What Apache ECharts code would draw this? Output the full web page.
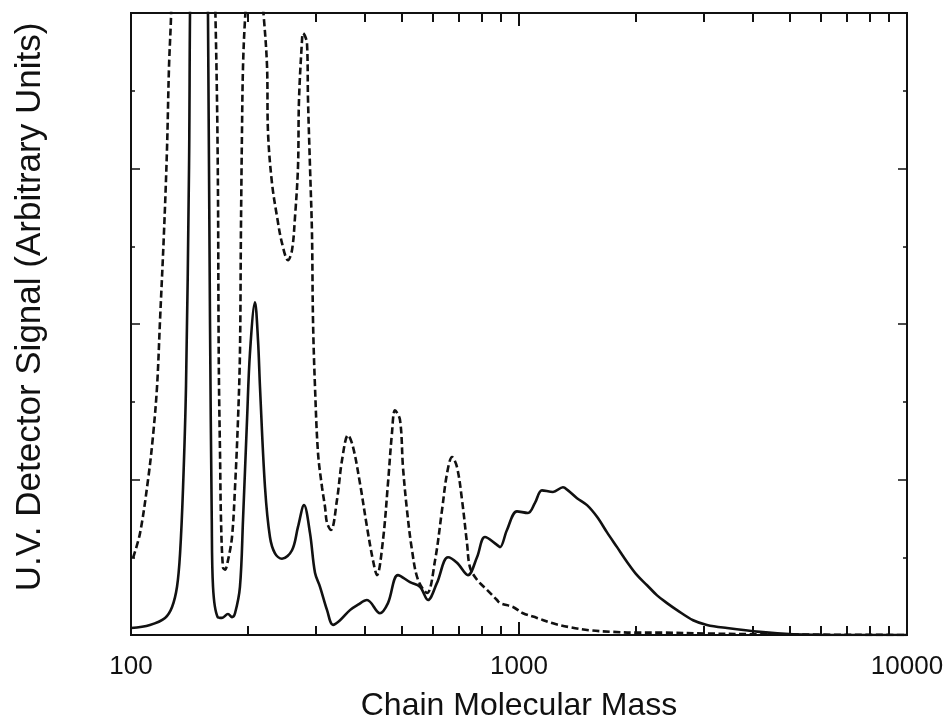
<!DOCTYPE html>
<html>
<head>
<meta charset="utf-8">
<script src="https://cdn.jsdelivr.net/npm/echarts@6/dist/echarts.min.js"></script>
<style>
html,body{margin:0;padding:0;background:#fff;}
#chart{width:950px;height:723px;}
</style>
</head>
<body>
<div id="chart"></div>
<script>
// Solid curve: chain molecular mass vs UV signal
const solidMass = [100, 111.9, 122.4, 127.6, 131.4, 133.8, 136.2, 138.6, 141.1, 142.8, 149.6, 157.0, 157.9, 159.8, 161.5, 162.7, 167.3,
  171.6, 177.8, 182.1, 185.4, 190.9, 194.4, 199.1, 202.6, 208.7, 212.5, 215.0, 221.5, 228.1, 235.0, 245.0, 260.0, 269.4, 279.2,
  289.3, 298.0, 307.0, 320.1, 331.7, 345.8, 366.7, 384.6, 405.7, 438.2, 459.5, 487.6, 523.6, 555.6, 582.7, 614.6, 656.2, 692.1,
  738.8, 779.4, 817.2, 877.6, 893.4, 931.1, 988.1, 1054.8, 1099.5, 1146.2, 1223.4, 1298.2, 1337.4, 1411.0, 1497.4, 1588.8,
  1686.2, 1789.4, 1899.0, 2014.6, 2138.0, 2268.8, 2407.2, 2554.4, 2809.5, 3051.3, 3436.7, 4178.8, 5084.2, 6500, 10000];
const solidSignal = [0.09, 0.13, 0.22, 0.36, 0.62, 1.05, 1.9, 3.2, 6.0, 9.0, 12.0, 9.0, 8.0, 4.05, 1.48, 0.62, 0.23,
  0.22, 0.27, 0.23, 0.28, 0.62, 1.48, 2.77, 3.63, 4.28, 3.79, 3.19, 1.90, 1.26, 1.05, 0.98, 1.09, 1.39, 1.67,
  1.31, 0.80, 0.62, 0.32, 0.13, 0.19, 0.32, 0.39, 0.45, 0.28, 0.41, 0.77, 0.68, 0.62, 0.45, 0.67, 1.0, 0.93,
  0.77, 1.0, 1.26, 1.16, 1.13, 1.35, 1.59, 1.57, 1.70, 1.86, 1.84, 1.90, 1.86, 1.76, 1.67, 1.52,
  1.32, 1.13, 0.94, 0.77, 0.64, 0.51, 0.41, 0.32, 0.19, 0.13, 0.09, 0.04, 0.01, 0.0, 0.0];

// Dashed curve
const dashedMass = [101.2, 105.5, 110.6, 113.9, 116.7, 118.8, 121.6, 123.8, 125.3, 126.8, 129.1, 137.8, 146.2, 155.1, 161.8, 164.7,
  166.6, 167.6, 168.1, 168.6, 169.6, 170.6, 172.6, 174.7, 177.8, 182.1, 185.4, 188.7, 190.9, 192.0, 193.2, 194.4, 196.7,
  201.4, 207.5, 213.8, 220.2, 224.2, 225.5, 230.9, 237.9, 245.0, 253.9, 260.0, 264.7, 269.4, 271.0, 275.9, 277.5, 284.2,
  285.9, 289.3, 292.7, 294.5, 298.0, 303.4, 310.7, 316.2, 320.1, 327.8, 339.6, 349.9, 362.5, 373.4, 389.2, 405.7, 420.4,
  430.5, 446.1, 459.5, 470.6, 479.0, 493.4, 502.3, 514.3, 530.0, 549.2, 579.5, 607.6, 633.4, 652.5, 672.2, 692.1, 713.0,
  734.5, 747.7, 779.4, 827.1, 877.6, 893.4, 965.0, 1023.9, 1112.6, 1223.4, 1353.4, 1524.1, 1747.5, 2014.6, 2350, 3000, 4000, 10000];
const dashedSignal = [0.99, 1.31, 1.99, 2.55, 3.19, 4.05, 5.17, 6.24, 7.31, 7.95, 9.5, 13, 14, 13, 10, 8.2,
  6.88, 5.6, 4.05, 3.19, 2.34, 1.48, 0.87, 0.84, 0.96, 1.26, 1.90, 2.77, 3.63, 5.17, 6.46, 7.31, 7.91,
  8.6, 9.0, 8.6, 7.91, 7.31, 6.46, 5.81, 5.38, 5.04, 4.82, 4.95, 5.38, 6.02, 6.88, 7.65, 7.74, 7.61,
  6.88, 6.02, 5.17, 4.05, 3.19, 2.34, 1.90, 1.65, 1.44, 1.35, 1.74, 2.25, 2.57, 2.42, 1.95, 1.39, 0.96,
  0.77, 1.22, 1.95, 2.60, 2.89, 2.77, 2.16, 1.61, 1.09, 0.71, 0.54, 0.96, 1.61, 2.08, 2.29, 2.16, 1.74,
  1.18, 0.87, 0.71, 0.58, 0.45, 0.41, 0.36, 0.28, 0.22, 0.15, 0.10, 0.06, 0.04, 0.03, 0.03, 0.02, 0.01, 0.0];

const minorMassTicks = [200, 300, 400, 500, 600, 700, 800, 900, 2000, 3000, 4000, 5000, 6000, 7000, 8000, 9000];
const majorMassTicks = [1000];
const massLabels = [100, 1000, 10000];

const xName = 'Chain Molecular Mass';
const yName = 'U.V. Detector Signal (Arbitrary Units)';

const pair = (xs, ys) => xs.map((x, i) => [x, ys[i]]);
const FONT = '"Liberation Sans", Arial, sans-serif';
const INK = '#111';

function xAxisDef(pos, ticks, len, extra) {
  return Object.assign({
    type: 'log', logBase: 10, min: 100, max: 10000, position: pos,
    axisLine: { show: true, onZero: false, lineStyle: { color: INK, width: 2 } },
    axisTick: { show: true, inside: true, length: len, customValues: ticks, lineStyle: { color: INK, width: 2 } },
    minorTick: { show: false },
    axisLabel: { show: false },
    splitLine: { show: false }
  }, extra || {});
}
function yAxisDef(pos, interval, len, extra) {
  return Object.assign({
    type: 'value', min: 0, max: 8, interval: interval, position: pos,
    axisLine: { show: true, onZero: false, lineStyle: { color: INK, width: 2 } },
    axisTick: { show: true, inside: true, length: len, lineStyle: { color: INK, width: 1.5 } },
    minorTick: { show: false },
    axisLabel: { show: false },
    splitLine: { show: false }
  }, extra || {});
}

const option = {
  backgroundColor: '#fff',
  animation: false,
  grid: { left: 131, right: 43, top: 13, bottom: 88, containLabel: false, outerBoundsMode: 'none' },
  xAxis: [
    xAxisDef('bottom', minorMassTicks, 9, {
      name: xName, nameLocation: 'middle', nameGap: 55,
      nameTextStyle: { fontFamily: FONT, fontSize: 32, color: INK },
      axisLabel: { show: true, customValues: massLabels, margin: 19, fontFamily: FONT, fontSize: 26, color: INK,
        formatter: v => String(Math.round(v)) }
    }),
    xAxisDef('top', minorMassTicks, 9),
    xAxisDef('bottom', majorMassTicks, 13),
    xAxisDef('top', majorMassTicks, 13)
  ],
  yAxis: [
    yAxisDef('left', 2, 9, {
      name: yName, nameLocation: 'middle', nameGap: 83,
      nameTextStyle: { fontFamily: FONT, fontSize: 35, color: INK, padding: [0, 0, 0, 34] }
    }),
    yAxisDef('left', 1, 4),
    yAxisDef('right', 2, 9),
    yAxisDef('right', 1, 4)
  ],
  series: [
    {
      type: 'line', name: 'solid', xAxisIndex: 0, yAxisIndex: 0,
      data: pair(solidMass, solidSignal),
      showSymbol: false, symbol: 'none', clip: true,
      smooth: 0.35,
      lineStyle: { color: INK, width: 2.6, type: 'solid' }
    },
    {
      type: 'line', name: 'dashed', xAxisIndex: 0, yAxisIndex: 0,
      data: pair(dashedMass, dashedSignal),
      showSymbol: false, symbol: 'none', clip: true,
      smooth: 0.35,
      lineStyle: { color: INK, width: 2.6, type: [7, 3.5] }
    }
  ]
};

const chart = echarts.init(document.getElementById('chart'), null, { renderer: 'canvas' });
chart.setOption(option);
</script>
</body>
</html>
